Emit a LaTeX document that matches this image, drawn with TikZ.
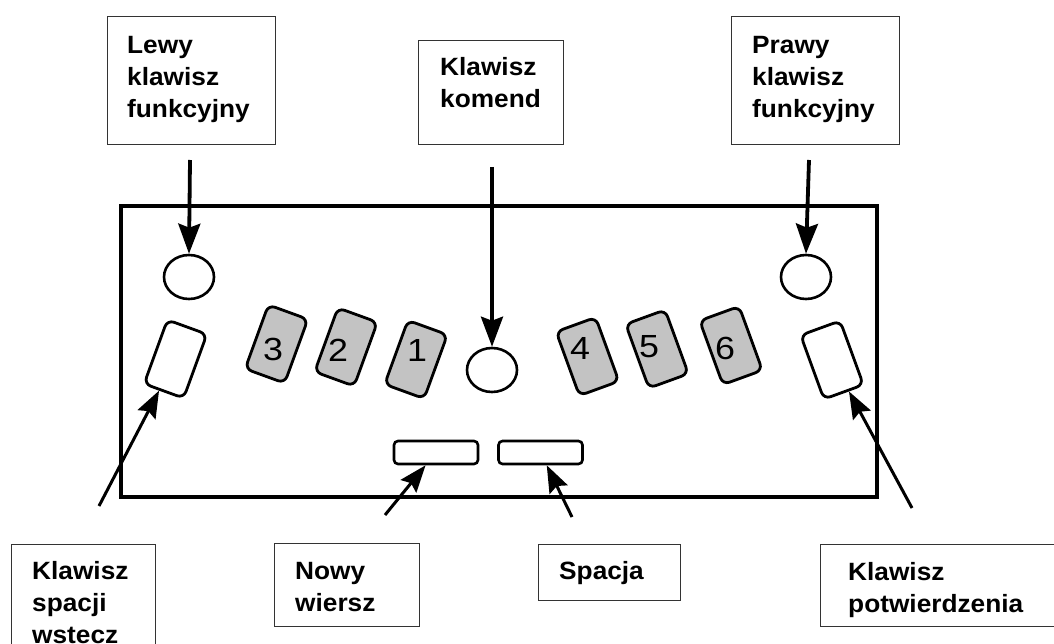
\documentclass[tikz,border=0pt]{standalone}
\usepackage{fontspec}
\usetikzlibrary{shapes.geometric,arrows.meta}
\newfontfamily\lblfont[FakeStretch=1.05]{Liberation Sans}
\newfontfamily\digfont[FakeStretch=1.12]{Liberation Sans}
\definecolor{keygray}{HTML}{C3C3C3}
\definecolor{boxline}{HTML}{333333}
\tikzset{
  arr/.style={-{Stealth[length=30pt,width=22pt,inset=4pt]}, line width=3.8pt},
  sarr/.style={-{Stealth[length=27pt,width=20pt,inset=4pt]}, line width=3pt}
}

\begin{document}
\begin{tikzpicture}[x=1pt,y=-1pt,
  box/.style={draw=boxline, line width=1.4pt, rectangle, inner sep=0pt, anchor=north west},
  lbl/.style={anchor=north west, inner sep=0pt, align=left,
    font=\lblfont\bfseries\fontsize{25}{32}\selectfont},
  panel/.style={draw=black, line width=3.6pt, rectangle, inner sep=0pt,
    minimum width=756pt, minimum height=291pt},
  keycap/.style={draw=black, line width=2.8pt, rounded corners=7pt, rectangle,
    minimum width=42pt, minimum height=68pt, inner sep=0pt},
  dotkey/.style={keycap, fill=keygray},
  fnkey/.style={draw=black, line width=2.6pt, ellipse, inner sep=0pt,
    minimum width=50pt, minimum height=44pt},
  barkey/.style={draw=black, line width=2.6pt, rounded corners=4pt, rectangle,
    inner sep=0pt, minimum width=84pt, minimum height=23pt},
  digit/.style={inner sep=0pt, font=\digfont\fontsize{32}{32}\selectfont}
]
\useasboundingbox (0,0) rectangle (1054,644);
\clip (0,0) rectangle (1054,644);
\fill[white] (0,0) rectangle (1054,644);

% keyboard body
\node[panel] (panel) at (499,351.5) {};

% function keys
\node[fnkey] (lfn) at (189,277) {};
\node[fnkey] (rfn) at (806,277) {};
\node[fnkey] (cmd) at (492,370) {};

% backspace and enter
\node[keycap, rotate=-20] (bskey) at (175.5,359) {};
\node[keycap, rotate=20] (entkey) at (832,360) {};

% braille dot keys
\node[dotkey, rotate=-20] (k3) at (276.5,344) {};
\node[dotkey, rotate=-20] (k2) at (346,347) {};
\node[dotkey, rotate=-20] (k1) at (416,359.5) {};
\node[dotkey, rotate=20] (k4) at (587.5,356.5) {};
\node[dotkey, rotate=20] (k5) at (657,349) {};
\node[dotkey, rotate=20] (k6) at (731,345.5) {};
\node[digit] (d3) at (273,349) {3};
\node[digit] (d2) at (338,350) {2};
\node[digit] (d1) at (417,350) {1};
\node[digit] (d4) at (580,348) {4};
\node[digit] (d5) at (649,347) {5};
\node[digit] (d6) at (725,348) {6};

% line and space bars
\node[barkey] (nlkey) at (436,452.5) {};
\node[barkey] (spkey) at (540.5,452.5) {};

% caption boxes
\node[box, minimum width=168pt, minimum height=128pt] (blewy) at (107,16) {};
\node[lbl] (tlewy) at (127,36) {Lewy\\klawisz\\funkcyjny};
\node[box, minimum width=145pt, minimum height=104pt] (bkom) at (418,40) {};
\node[lbl] (tkom) at (440,57) {Klawisz\\komend};
\node[box, minimum width=168pt, minimum height=128pt] (bprawy) at (731,16) {};
\node[lbl] (tprawy) at (752,36) {Prawy\\klawisz\\funkcyjny};
\node[box, minimum width=144pt, minimum height=130pt] (bbsp) at (11,544) {};
\node[lbl] (tbsp) at (32,561) {Klawisz\\spacji\\wstecz};
\node[box, minimum width=145pt, minimum height=83pt] (bnl) at (274,543) {};
\node[lbl] (tnl) at (295,562) {Nowy\\wiersz};
\node[box, minimum width=142pt, minimum height=56pt] (bspc) at (538,544) {};
\node[lbl] (tspc) at (559,561) {Spacja};
\node[box, minimum width=250pt, minimum height=82pt] (bent) at (820,544) {};
\node[lbl] (tent) at (848,562) {Klawisz\\potwierdzenia};

% arrow tails
\coordinate (alewy) at (190,160);
\coordinate (akom) at (492,167);
\coordinate (aprawy) at (809,160);
\coordinate (absp) at (99,506);
\coordinate (anl) at (385,515);
\coordinate (asp) at (572,517);
\coordinate (aent) at (912,508);

% connectors
\draw[arr] (alewy) -- (lfn.north);
\draw[arr] (akom) -- (cmd.north);
\draw[arr] (aprawy) -- (rfn.north);
\draw[sarr] (absp) -- (bskey);
\draw[sarr] (anl) -- (nlkey);
\draw[sarr] (asp) -- (spkey);
\draw[sarr] (aent) -- (entkey);
\end{tikzpicture}
\end{document}
